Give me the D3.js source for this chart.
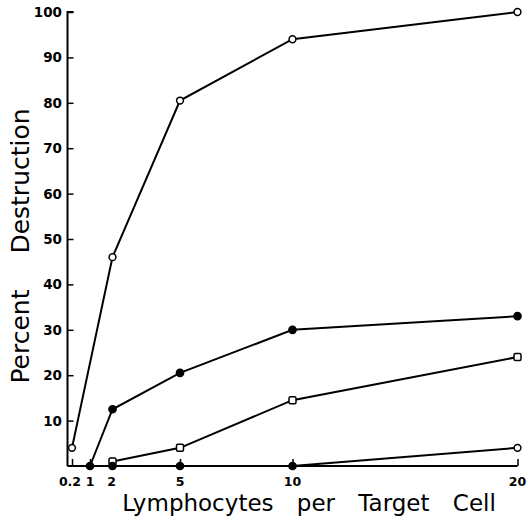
<!DOCTYPE html>
<html><head><meta charset="utf-8">
<script src="https://cdn.jsdelivr.net/npm/d3@7"></script>
<style>body{margin:0;background:#fff}svg{display:block}</style>
</head><body>
<script>
const xTicks = [0.2, 1, 2, 5, 10, 20];
const xTickLabels = ["0.2", "1", "2", "5", "10", "20"];
const yTicks = [10, 20, 30, 40, 50, 60, 70, 80, 90, 100];
const yTickLabels = ["10", "20", "30", "40", "50", "60", "70", "80", "90", "100"];

const seriesA_x = [0.2, 2, 5, 10, 20];
const seriesA_y = [4, 46, 80.5, 94, 100];
const seriesB_x = [1, 2, 5, 10, 20];
const seriesB_y = [0, 12.5, 20.5, 30, 33];
const seriesC_x = [2, 5, 10, 20];
const seriesC_y = [1, 4, 14.5, 24];
const seriesD_x = [2, 5, 10, 20];
const seriesD_y = [0, 0, 0, 4];

const series = [
  {name: "A", xs: seriesA_x, ys: seriesA_y, marker: "circle", filled: [false,false,false,false,false]},
  {name: "B", xs: seriesB_x, ys: seriesB_y, marker: "circle", filled: [true,true,true,true,true]},
  {name: "C", xs: seriesC_x, ys: seriesC_y, marker: "square", filled: [false,false,false,false]},
  {name: "D", xs: seriesD_x, ys: seriesD_y, marker: "circle", filled: [true,true,true,false]}
];

const W = 528, H = 520;
const svg = d3.select("body").append("svg").attr("width", W).attr("height", H);
const x = d3.scaleLinear().domain([0, 20]).range([67.5, 517.5]);
const y = d3.scaleLinear().domain([0, 100]).range([466, 12]);
const font = "'DejaVu Sans', sans-serif";

// axes
const yAxis = d3.axisRight(y).tickValues(yTicks).tickSize(6).tickFormat(() => "");
const yg = svg.append("g").attr("transform", `translate(${x(0)},0)`).call(yAxis);
yg.select(".domain").attr("d", `M6,${y(100)}H0V${y(0)}`).attr("stroke", "#000").attr("stroke-width", 2).attr("fill","none");
yg.selectAll(".tick line").attr("stroke", "#000").attr("stroke-width", 1.5);

const xAxis = d3.axisTop(x).tickValues(xTicks).tickSize(7).tickFormat(() => "");
const xg = svg.append("g").attr("transform", `translate(0,${y(0)})`).call(xAxis);
xg.select(".domain").attr("d", `M${x(0)},0H${x(20)}`).attr("stroke", "#000").attr("stroke-width", 2);
xg.selectAll(".tick line").attr("stroke", "#000").attr("stroke-width", 1.5);

// tick labels
svg.append("g").selectAll("text").data(yTicks).join("text")
  .attr("x", 62).attr("y", d => y(d) + 5)
  .attr("text-anchor", "end").attr("font-family", font).attr("font-size", 13.5).attr("font-weight", "bold")
  .text((d, i) => yTickLabels[i]);
svg.append("g").selectAll("text").data(xTicks).join("text")
  .attr("x", d => x(d) + (d === 0.2 ? -2 : d === 2 ? -1 : 0)).attr("y", 486)
  .attr("text-anchor", "middle").attr("font-family", font).attr("font-size", 12.5).attr("font-weight", "bold")
  .text((d, i) => xTickLabels[i]);

// titles
svg.append("text").attr("transform", "translate(29,246) rotate(-90)")
  .attr("text-anchor", "middle").attr("font-family", font).attr("font-size", 25)
  .attr("word-spacing", 28).text("Percent Destruction");
svg.append("text").attr("x", 309).attr("y", 511)
  .attr("text-anchor", "middle").attr("font-family", font).attr("font-size", 23)
  .attr("word-spacing", 16).text("Lymphocytes per Target Cell");

// lines & markers
const line = d3.line().x(d => x(d[0])).y(d => y(d[1]));
series.forEach(s => {
  const pts = s.xs.map((v, i) => [v, s.ys[i], s.filled[i]]);
  svg.append("path").datum(pts).attr("d", line).attr("fill", "none").attr("stroke", "#000").attr("stroke-width", 2);
  const g = svg.append("g");
  if (s.marker === "circle") {
    g.selectAll("circle").data(pts).join("circle")
      .attr("cx", d => x(d[0])).attr("cy", d => y(d[1]))
      .attr("r", d => d[2] ? 3.6 : 3.4)
      .attr("fill", d => d[2] ? "#000" : "#fff").attr("stroke", "#000").attr("stroke-width", 1.5);
  } else {
    g.selectAll("rect").data(pts).join("rect")
      .attr("x", d => x(d[0]) - 3.5).attr("y", d => y(d[1]) - 3.5)
      .attr("width", 7).attr("height", 7).attr("rx", 1.5)
      .attr("fill", "#fff").attr("stroke", "#000").attr("stroke-width", 1.5);
  }
});
</script>
</body></html>
